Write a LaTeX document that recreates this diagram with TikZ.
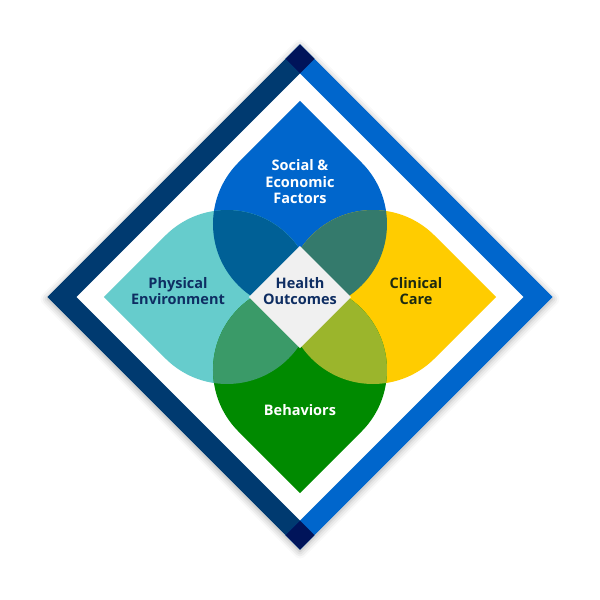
\documentclass[tikz,border=0pt]{standalone}
\usepackage{fontspec}
\newfontfamily\labelfont{Open Sans}
\usetikzlibrary{shadows.blur}

\definecolor{bandnavy}{HTML}{003A70}
\definecolor{bandblue}{HTML}{0066CC}
\definecolor{cornernavy}{HTML}{00145A}
\definecolor{socialblue}{HTML}{0066CC}
\definecolor{physteal}{HTML}{66CCCC}
\definecolor{clinyellow}{HTML}{FFCC00}
\definecolor{behavgreen}{HTML}{008A00}
\definecolor{socphys}{HTML}{006096}
\definecolor{socclin}{HTML}{347A6C}
\definecolor{physbehav}{HTML}{3A9A68}
\definecolor{clinbehav}{HTML}{9BB52C}
\definecolor{healthgrey}{HTML}{F0F0F0}
\definecolor{textnavy}{HTML}{0E2D62}
\definecolor{textdark}{HTML}{1C2A12}

% teardrop: circle centre #1, tip pointing at angle #2
\newcommand{\petalshape}[2]{([shift={#1}]{#2}:123) -- ([shift={#1}]{#2+45}:87) arc[start angle={#2+45}, end angle={#2+315}, radius=87] -- cycle}

\tikzset{
    label text/.style={font=\labelfont\bfseries\fontsize{14.5}{16.5}\selectfont, align=center},
}

\begin{document}
\begin{tikzpicture}[x=1pt, y=1pt]
    \useasboundingbox (-300,-303) rectangle (300,297);
    % frame corners
    \coordinate (T) at (0,252.5);
    \coordinate (B) at (0,-252.5);
    \coordinate (L) at (-252.5,0);
    \coordinate (R) at (252.5,0);
    \coordinate (IT) at (0,223.5);
    \coordinate (IB) at (0,-223.5);
    \coordinate (IL) at (-223.5,0);
    \coordinate (IR) at (223.5,0);
    \coordinate (TL) at (-14.5,238);
    \coordinate (TR) at (14.5,238);
    \coordinate (BL) at (-14.5,-238);
    \coordinate (BR) at (14.5,-238);
    \fill[white, blur shadow={shadow blur radius=7pt, shadow xshift=0pt, shadow yshift=-2pt, shadow opacity=35}] (T) -- (R) -- (B) -- (L) -- cycle;
    \fill[bandnavy] (T) -- (L) -- (B) -- (BR) -- (IL) -- (TR) -- cycle;
    \fill[bandblue] (T) -- (R) -- (B) -- (BL) -- (IR) -- (TL) -- cycle;
    \fill[cornernavy] (T) -- (TR) -- (IT) -- (TL) -- cycle;
    \fill[cornernavy] (B) -- (BR) -- (IB) -- (BL) -- cycle;

    % petals
    \fill[socialblue] \petalshape{(0,73)}{90};
    \fill[physteal] \petalshape{(-73,0)}{180};
    \fill[clinyellow] \petalshape{(73,0)}{0};
    \fill[behavgreen] \petalshape{(0,-73)}{270};
    % overlaps
    \begin{scope}
        \clip \petalshape{(0,73)}{90};
        \fill[socphys] \petalshape{(-73,0)}{180};
        \fill[socclin] \petalshape{(73,0)}{0};
    \end{scope}
    \begin{scope}
        \clip \petalshape{(0,-73)}{270};
        \fill[physbehav] \petalshape{(-73,0)}{180};
        \fill[clinbehav] \petalshape{(73,0)}{0};
    \end{scope}
    \fill[healthgrey] (0,51) -- (51,0) -- (0,-51) -- (-51,0) -- cycle;

    % labels
    \node[label text, text=white] (social) at (0,115) {Social \&\\Economic\\Factors};
    \node[label text, text=textnavy] (physical) at (-122,6) {Physical\\Environment};
    \node[label text, text=textnavy] (health) at (0,6) {Health\\Outcomes};
    \node[label text, text=textdark] (clinical) at (116,6) {Clinical\\Care};
    \node[label text, text=white] (behaviors) at (0,-113) {Behaviors};
\end{tikzpicture}
\end{document}
